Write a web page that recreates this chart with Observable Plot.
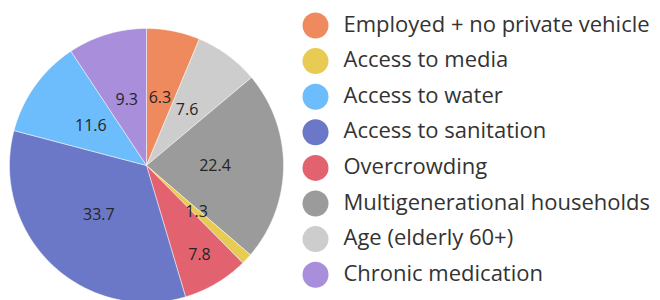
<!DOCTYPE html>
<html>
<head>
<meta charset="utf-8">
<script src="https://cdn.jsdelivr.net/npm/d3@7"></script>
<script src="https://cdn.jsdelivr.net/npm/@observablehq/plot@0.6"></script>
<style>
  html, body { margin: 0; padding: 0; background: #fff; }
  svg { display: block; }
</style>
</head>
<body>
<div id="chart"></div>
<script>
// ---- data ----
const pieOrder = ["Employed + no private vehicle", "Age (elderly 60+)", "Multigenerational households", "Access to media", "Overcrowding", "Access to sanitation", "Access to water", "Chronic medication"];
const pieValues = [6.3, 7.6, 22.4, 1.3, 7.8, 33.7, 11.6, 9.3];
const legendOrder = ["Employed + no private vehicle", "Access to media", "Access to water", "Access to sanitation", "Overcrowding", "Multigenerational households", "Age (elderly 60+)", "Chronic medication"];
const legendColors = ["#EF8A5E", "#E8CB52", "#6DBCFC", "#6B78C7", "#E2636F", "#9B9B9B", "#CDCDCD", "#A98EDB"];

// ---- layout ----
const W = 660, H = 300;
const cx = 146, cy = 165, R = 137;
const legendX = 315, legendY0 = 25, legendStep = 35.6;
const labelFrac = (name) => name === "Overcrowding" ? 0.76 : 0.5;

const total = d3.sum(pieValues);
const slices = [];
let acc = 0;
pieOrder.forEach((name, i) => {
  const v = pieValues[i];
  const a0 = acc / total * 2 * Math.PI;
  acc += v;
  const a1 = acc / total * 2 * Math.PI;
  slices.push({name, value: v, a0, a1});
});

const polyPts = [];
for (const s of slices) {
  polyPts.push({key: s.name, x: cx, y: cy});
  const n = Math.max(2, Math.ceil((s.a1 - s.a0) / (Math.PI / 360)));
  for (let k = 0; k <= n; k++) {
    const a = s.a0 + (s.a1 - s.a0) * k / n;
    polyPts.push({key: s.name, x: cx + R * Math.sin(a), y: cy - R * Math.cos(a)});
  }
  polyPts.push({key: s.name, x: cx, y: cy});
}

const labels = slices.map(s => {
  const m = (s.a0 + s.a1) / 2, r = R * labelFrac(s.name);
  return {text: s.value.toFixed(1), x: cx + r * Math.sin(m), y: cy - r * Math.cos(m)};
});

const legend = legendOrder.map((name, i) => ({name, x: legendX, y: legendY0 + i * legendStep}));

const chart = Plot.plot({
  width: W, height: H,
  margin: 0,
  style: {fontFamily: "'Open Sans', 'Noto Sans', sans-serif", background: "#fff", overflow: "hidden"},
  x: {domain: [0, W], range: [0, W], axis: null},
  y: {domain: [0, H], range: [0, H], axis: null},
  color: {domain: legendOrder, range: legendColors},
  marks: [
    Plot.line(polyPts, {x: "x", y: "y", z: "key", fill: "key", stroke: "#fff", strokeWidth: 0.6, strokeOpacity: 0.8, curve: "linear"}),
    Plot.text(labels, {x: "x", y: "y", text: "text", fill: "#252525", fontSize: 16}),
    Plot.dot(legend, {x: "x", y: "y", r: 13, fill: "name", stroke: null}),
    Plot.text(legend, {x: "x", y: "y", text: "name", textAnchor: "start", dx: 28, dy: -1, fill: "#333", fontSize: 22})
  ]
});
document.getElementById("chart").appendChild(chart);
</script>
</body>
</html>
